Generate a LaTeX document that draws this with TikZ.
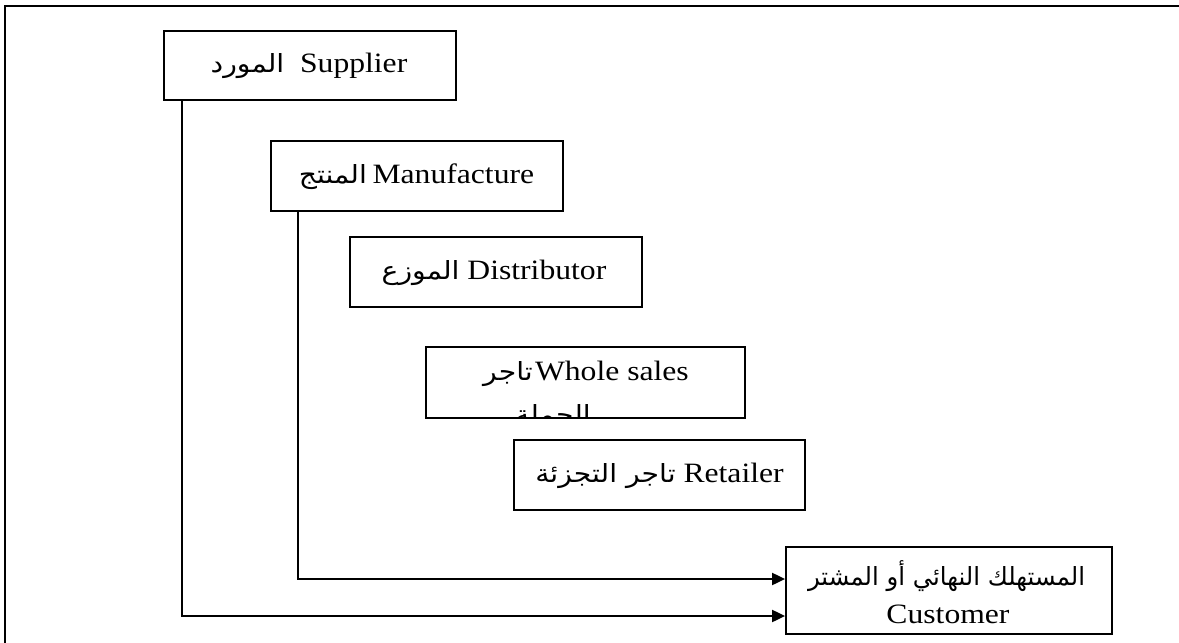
\documentclass[tikz,border=0pt]{standalone}
\usepackage{fontspec}
\usepackage{graphicx}
\setmainfont{Liberation Serif}
\newfontfamily\arabicfont[Script=Arabic]{DejaVu Sans}
\TeXXeTstate=1
\usetikzlibrary{arrows.meta}
\newcommand\artxt[1]{{\arabicfont\fontsize{25}{29}\selectfont\beginR #1\endR}}
\newcommand\wide[1]{\scalebox{1.13}[1]{#1}}
\tikzset{
  box/.style={draw, line width=1.8pt, inner sep=0pt},
  lbl/.style={anchor=base, inner sep=0pt, font=\fontsize{28}{32}\selectfont},
  flow/.style={line width=2pt, -{Triangle[length=13pt,width=12pt]}},
}
\begin{document}
\begin{tikzpicture}[x=1pt,y=-1pt]
\useasboundingbox (0,0) rectangle (1179,643);
\fill[white] (-20,-20) rectangle (1200,663);
\clip (-20,-20) rectangle (1200,663);
\draw[line width=2pt] (5,680) -- (5,6) -- (1220,6);

\node[box, minimum width=292pt, minimum height=69pt] (sup) at (310,65.5) {};
\node[box, minimum width=292pt, minimum height=70pt] (man) at (417,176) {};
\node[box, minimum width=292pt, minimum height=70pt] (dis) at (496,272) {};
\node[box, minimum width=319pt, minimum height=71pt] (who) at (585.5,382.5) {};
\node[box, minimum width=291pt, minimum height=70pt] (ret) at (659.5,475) {};
\node[box, minimum width=326pt, minimum height=87pt] (cus) at (949,590.5) {};

\node[lbl] (tsup) at (309,72) {\wide{\artxt{المورد}\ \ Supplier}};
\node[lbl] (tman) at (416.5,183) {\wide{\artxt{المنتج}\kern5pt Manufacture}};
\node[lbl] (tdis) at (494,279) {\wide{\artxt{الموزع} Distributor}};
\node[lbl] (twho) at (586,380) {\wide{\artxt{تاجر}\kern2pt Whole sales}};
\begin{scope}
  \clip (who.south west) rectangle (who.north east);
  \node[lbl] (twho2) at (553,423) {\wide{\artxt{الجملة}}};
\end{scope}
\node[lbl] (tret) at (659.5,482) {\wide{\artxt{تاجر التجزئة} Retailer}};
\node[lbl] (tcus1) at (946.5,585) {\resizebox{277pt}{\height}{\artxt{المستهلك النهائي أو المشتر}}};
\node[lbl] (tcus2) at (948,623) {\wide{Customer}};

\draw[flow] ([xshift=19pt]sup.south west) |- ([yshift=-25.5pt]cus.west);
\draw[flow] ([xshift=28pt]man.south west) |- ([yshift=11.5pt]cus.west);
\end{tikzpicture}
\end{document}
